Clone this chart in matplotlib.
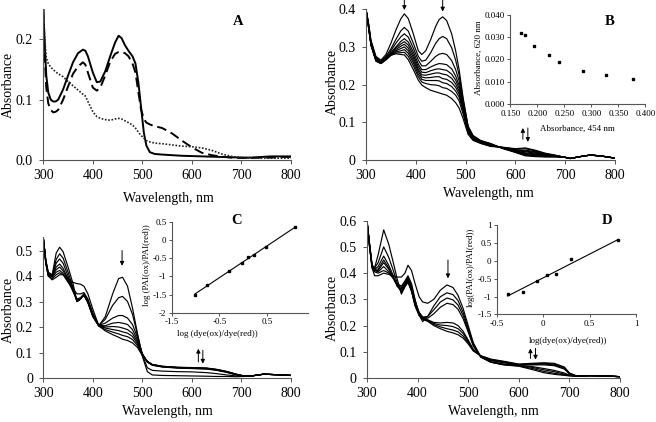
import numpy as np
import matplotlib
matplotlib.use('Agg')
import matplotlib.pyplot as plt
from matplotlib.ticker import FuncFormatter

plt.rcParams['font.family'] = ['Liberation Serif', 'DejaVu Serif']
plt.rcParams['axes.unicode_minus'] = False

# ---------------- data ----------------
wavelength_ticks = [300, 400, 500, 600, 700, 800]

# Panel A
wl_A = [300, 303, 306, 310, 315, 320, 325, 330, 340, 350, 360, 370, 380, 385, 390, 400, 408, 415,
        425, 435, 445, 452, 458, 465, 472, 480, 486, 492, 497, 503, 508, 515, 525, 540, 560, 580,
        600, 620, 640, 660, 680, 700, 720, 740, 760, 780, 800]
abs_A_solid = [0.25, 0.19, 0.14, 0.112, 0.10, 0.097, 0.097, 0.10, 0.117, 0.14, 0.162, 0.177, 0.183,
               0.181, 0.172, 0.145, 0.129, 0.13, 0.147, 0.172, 0.195, 0.206, 0.202, 0.19, 0.181,
               0.172, 0.16, 0.128, 0.09, 0.045, 0.024, 0.013, 0.01, 0.009, 0.008, 0.007, 0.0065,
               0.006, 0.0055, 0.005, 0.0045, 0.004, 0.004, 0.005, 0.006, 0.006, 0.006]
abs_A_dashed = [0.25, 0.17, 0.12, 0.094, 0.083, 0.079, 0.08, 0.083, 0.10, 0.122, 0.143, 0.155, 0.162,
                0.158, 0.145, 0.12, 0.115, 0.12, 0.14, 0.163, 0.176, 0.179, 0.179, 0.177, 0.172,
                0.16, 0.145, 0.112, 0.085, 0.068, 0.062, 0.059, 0.056, 0.053, 0.044, 0.032, 0.021,
                0.012, 0.008, 0.0055, 0.004, 0.0035, 0.0035, 0.004, 0.004, 0.005, 0.005]
abs_A_dotted = [0.25, 0.20, 0.17, 0.16, 0.154, 0.15, 0.146, 0.143, 0.138, 0.13, 0.123, 0.116, 0.109,
                0.106, 0.097, 0.08, 0.072, 0.069, 0.067, 0.066, 0.068, 0.069, 0.068, 0.065, 0.062,
                0.058, 0.053, 0.046, 0.041, 0.036, 0.032, 0.03, 0.028, 0.027, 0.025, 0.023, 0.022,
                0.02, 0.016, 0.01, 0.006, 0.004, 0.003, 0.003, 0.003, 0.003, 0.003]

# Panel B (rows: wavelength, columns: successive spectra)
wl_B = [300, 305, 310, 320, 330, 340, 350, 360, 370, 377, 385, 395, 405, 412, 420, 430, 440, 447,
        454, 462, 472, 480, 487, 495, 505, 515, 530, 550, 575, 600, 620, 640, 660, 680, 700, 710,
        730, 750, 770, 800]
abs_B = [
    [0.400, 0.400, 0.400, 0.400, 0.400, 0.400, 0.400, 0.400, 0.400, 0.400],
    [0.365, 0.362, 0.360, 0.358, 0.357, 0.356, 0.355, 0.354, 0.353, 0.352],
    [0.318, 0.315, 0.312, 0.310, 0.309, 0.308, 0.307, 0.306, 0.305, 0.304],
    [0.275, 0.272, 0.270, 0.268, 0.267, 0.266, 0.265, 0.264, 0.263, 0.262],
    [0.265, 0.262, 0.260, 0.259, 0.258, 0.258, 0.257, 0.257, 0.256, 0.256],
    [0.280, 0.275, 0.272, 0.270, 0.269, 0.268, 0.267, 0.267, 0.266, 0.266],
    [0.310, 0.295, 0.290, 0.285, 0.283, 0.281, 0.280, 0.279, 0.278, 0.278],
    [0.345, 0.320, 0.310, 0.300, 0.297, 0.293, 0.290, 0.287, 0.284, 0.282],
    [0.375, 0.343, 0.327, 0.315, 0.308, 0.302, 0.296, 0.290, 0.285, 0.280],
    [0.388, 0.352, 0.335, 0.322, 0.314, 0.307, 0.300, 0.293, 0.286, 0.279],
    [0.375, 0.342, 0.326, 0.313, 0.305, 0.297, 0.290, 0.283, 0.275, 0.266],
    [0.335, 0.310, 0.297, 0.287, 0.279, 0.272, 0.265, 0.258, 0.250, 0.240],
    [0.290, 0.275, 0.265, 0.255, 0.248, 0.241, 0.235, 0.228, 0.221, 0.212],
    [0.280, 0.262, 0.250, 0.240, 0.233, 0.226, 0.220, 0.214, 0.207, 0.199],
    [0.290, 0.265, 0.250, 0.240, 0.232, 0.225, 0.218, 0.211, 0.203, 0.192],
    [0.320, 0.285, 0.262, 0.247, 0.237, 0.228, 0.219, 0.211, 0.200, 0.185],
    [0.355, 0.310, 0.275, 0.253, 0.241, 0.231, 0.221, 0.211, 0.199, 0.181],
    [0.373, 0.322, 0.281, 0.256, 0.242, 0.231, 0.221, 0.210, 0.197, 0.178],
    [0.380, 0.328, 0.283, 0.255, 0.240, 0.228, 0.216, 0.205, 0.192, 0.175],
    [0.370, 0.322, 0.280, 0.253, 0.238, 0.226, 0.214, 0.203, 0.190, 0.172],
    [0.335, 0.298, 0.264, 0.242, 0.228, 0.217, 0.206, 0.195, 0.182, 0.163],
    [0.290, 0.265, 0.240, 0.223, 0.212, 0.202, 0.193, 0.183, 0.172, 0.152],
    [0.240, 0.225, 0.210, 0.198, 0.190, 0.182, 0.175, 0.167, 0.157, 0.138],
    [0.165, 0.160, 0.155, 0.150, 0.145, 0.140, 0.135, 0.130, 0.122, 0.110],
    [0.090, 0.088, 0.086, 0.084, 0.082, 0.080, 0.078, 0.076, 0.072, 0.068],
    [0.065, 0.064, 0.062, 0.060, 0.059, 0.058, 0.057, 0.056, 0.054, 0.052],
    [0.052, 0.051, 0.050, 0.049, 0.048, 0.048, 0.047, 0.046, 0.045, 0.044],
    [0.044, 0.043, 0.042, 0.041, 0.040, 0.040, 0.039, 0.038, 0.037, 0.036],
    [0.030, 0.031, 0.031, 0.032, 0.032, 0.032, 0.033, 0.033, 0.033, 0.034],
    [0.020, 0.021, 0.022, 0.023, 0.024, 0.025, 0.026, 0.027, 0.029, 0.030],
    [0.011, 0.013, 0.015, 0.017, 0.019, 0.022, 0.024, 0.026, 0.030, 0.032],
    [0.009, 0.011, 0.012, 0.014, 0.016, 0.018, 0.020, 0.022, 0.024, 0.026],
    [0.008, 0.009, 0.010, 0.011, 0.012, 0.013, 0.014, 0.015, 0.017, 0.018],
    [0.008, 0.009, 0.009, 0.010, 0.010, 0.011, 0.011, 0.012, 0.012, 0.013],
    [0.007, 0.007, 0.007, 0.007, 0.007, 0.007, 0.007, 0.007, 0.007, 0.007],
    [0.004, 0.004, 0.004, 0.004, 0.004, 0.004, 0.004, 0.004, 0.004, 0.004],
    [0.009, 0.009, 0.009, 0.009, 0.009, 0.009, 0.009, 0.009, 0.009, 0.009],
    [0.013, 0.013, 0.013, 0.013, 0.013, 0.013, 0.013, 0.013, 0.013, 0.013],
    [0.011, 0.011, 0.011, 0.011, 0.011, 0.011, 0.011, 0.011, 0.011, 0.011],
    [0.005, 0.005, 0.005, 0.005, 0.005, 0.005, 0.005, 0.005, 0.005, 0.005],
]
inset_B_abs454 = [0.170, 0.177, 0.194, 0.222, 0.240, 0.285, 0.327, 0.378]
inset_B_abs620 = [0.032, 0.031, 0.026, 0.022, 0.019, 0.015, 0.013, 0.011]

# Panel C
wl_C = [300, 305, 310, 318, 326, 333, 340, 350, 360, 368, 375, 382, 390, 400, 412, 425, 440, 452,
        460, 470, 480, 490, 500, 510, 520, 540, 570, 600, 630, 650, 670, 690, 705, 720, 745, 770, 800]
abs_C = [
    [0.550, 0.550, 0.550, 0.550, 0.550, 0.550, 0.550, 0.550],
    [0.450, 0.450, 0.455, 0.455, 0.460, 0.460, 0.460, 0.465],
    [0.400, 0.400, 0.405, 0.405, 0.410, 0.410, 0.410, 0.415],
    [0.385, 0.390, 0.395, 0.398, 0.400, 0.400, 0.402, 0.405],
    [0.395, 0.405, 0.415, 0.425, 0.435, 0.450, 0.465, 0.490],
    [0.405, 0.413, 0.422, 0.435, 0.447, 0.467, 0.487, 0.513],
    [0.405, 0.405, 0.410, 0.420, 0.430, 0.450, 0.470, 0.495],
    [0.390, 0.375, 0.380, 0.385, 0.390, 0.400, 0.415, 0.435],
    [0.375, 0.350, 0.340, 0.340, 0.345, 0.350, 0.355, 0.370],
    [0.370, 0.330, 0.310, 0.305, 0.300, 0.300, 0.300, 0.300],
    [0.368, 0.330, 0.315, 0.312, 0.310, 0.310, 0.310, 0.310],
    [0.360, 0.335, 0.330, 0.328, 0.327, 0.326, 0.325, 0.325],
    [0.330, 0.310, 0.305, 0.302, 0.300, 0.298, 0.296, 0.295],
    [0.270, 0.255, 0.250, 0.247, 0.245, 0.243, 0.242, 0.240],
    [0.205, 0.206, 0.207, 0.206, 0.205, 0.205, 0.204, 0.204],
    [0.240, 0.230, 0.215, 0.205, 0.200, 0.196, 0.190, 0.185],
    [0.330, 0.285, 0.235, 0.215, 0.202, 0.190, 0.180, 0.170],
    [0.390, 0.315, 0.245, 0.218, 0.200, 0.186, 0.173, 0.160],
    [0.395, 0.320, 0.245, 0.215, 0.196, 0.181, 0.167, 0.152],
    [0.360, 0.300, 0.235, 0.210, 0.190, 0.176, 0.162, 0.147],
    [0.275, 0.250, 0.210, 0.190, 0.175, 0.163, 0.151, 0.138],
    [0.175, 0.170, 0.160, 0.150, 0.142, 0.135, 0.128, 0.120],
    [0.085, 0.090, 0.095, 0.094, 0.093, 0.092, 0.090, 0.088],
    [0.025, 0.040, 0.062, 0.063, 0.064, 0.064, 0.065, 0.065],
    [0.012, 0.030, 0.050, 0.051, 0.052, 0.052, 0.053, 0.053],
    [0.010, 0.027, 0.043, 0.044, 0.045, 0.045, 0.046, 0.046],
    [0.009, 0.025, 0.039, 0.040, 0.041, 0.041, 0.042, 0.042],
    [0.008, 0.024, 0.037, 0.038, 0.039, 0.040, 0.040, 0.041],
    [0.007, 0.021, 0.035, 0.036, 0.037, 0.038, 0.038, 0.039],
    [0.006, 0.017, 0.030, 0.031, 0.032, 0.033, 0.033, 0.034],
    [0.006, 0.012, 0.022, 0.023, 0.024, 0.025, 0.025, 0.026],
    [0.005, 0.008, 0.012, 0.013, 0.013, 0.014, 0.014, 0.015],
    [0.006, 0.007, 0.008, 0.008, 0.008, 0.008, 0.008, 0.008],
    [0.008, 0.008, 0.008, 0.008, 0.008, 0.008, 0.008, 0.008],
    [0.015, 0.015, 0.015, 0.015, 0.015, 0.015, 0.015, 0.015],
    [0.013, 0.013, 0.013, 0.013, 0.013, 0.013, 0.013, 0.013],
    [0.010, 0.010, 0.010, 0.010, 0.010, 0.010, 0.010, 0.010],
]
inset_C_x = [-1.01, -0.76, -0.30, -0.03, 0.11, 0.24, 0.49, 1.10]
inset_C_y = [-1.50, -1.24, -0.86, -0.64, -0.48, -0.41, -0.20, 0.36]

# Panel D
wl_D = [300, 305, 310, 315, 322, 333, 343, 352, 360, 368, 375, 381, 388, 395, 403, 410, 420, 432,
        445, 458, 470, 480, 490, 500, 510, 525, 545, 570, 600, 625, 650, 670, 690, 700, 715, 740,
        770, 800]
abs_D = [
    [0.600, 0.600, 0.600, 0.600, 0.600, 0.600, 0.600, 0.600],
    [0.500, 0.500, 0.505, 0.505, 0.510, 0.510, 0.510, 0.515],
    [0.420, 0.420, 0.425, 0.425, 0.430, 0.430, 0.430, 0.430],
    [0.390, 0.405, 0.410, 0.410, 0.415, 0.415, 0.420, 0.420],
    [0.390, 0.400, 0.405, 0.410, 0.415, 0.425, 0.440, 0.470],
    [0.400, 0.410, 0.425, 0.440, 0.450, 0.465, 0.500, 0.565],
    [0.395, 0.400, 0.405, 0.415, 0.420, 0.430, 0.460, 0.510],
    [0.390, 0.380, 0.380, 0.380, 0.385, 0.390, 0.410, 0.440],
    [0.385, 0.360, 0.355, 0.350, 0.350, 0.350, 0.360, 0.375],
    [0.385, 0.350, 0.345, 0.340, 0.335, 0.330, 0.325, 0.320],
    [0.400, 0.370, 0.365, 0.360, 0.355, 0.352, 0.350, 0.348],
    [0.430, 0.390, 0.385, 0.380, 0.375, 0.370, 0.368, 0.365],
    [0.410, 0.360, 0.350, 0.345, 0.340, 0.335, 0.332, 0.330],
    [0.360, 0.300, 0.295, 0.290, 0.285, 0.280, 0.277, 0.275],
    [0.310, 0.240, 0.250, 0.250, 0.245, 0.242, 0.240, 0.238],
    [0.290, 0.215, 0.232, 0.232, 0.228, 0.226, 0.225, 0.224],
    [0.285, 0.235, 0.235, 0.228, 0.222, 0.220, 0.218, 0.216],
    [0.300, 0.275, 0.260, 0.245, 0.212, 0.208, 0.204, 0.200],
    [0.335, 0.310, 0.290, 0.270, 0.210, 0.202, 0.195, 0.188],
    [0.355, 0.325, 0.305, 0.285, 0.212, 0.200, 0.188, 0.178],
    [0.345, 0.318, 0.298, 0.280, 0.210, 0.196, 0.183, 0.172],
    [0.315, 0.295, 0.278, 0.262, 0.200, 0.188, 0.176, 0.165],
    [0.265, 0.250, 0.238, 0.226, 0.178, 0.170, 0.160, 0.152],
    [0.200, 0.190, 0.182, 0.175, 0.145, 0.140, 0.135, 0.130],
    [0.135, 0.130, 0.126, 0.122, 0.110, 0.108, 0.105, 0.103],
    [0.080, 0.080, 0.080, 0.080, 0.082, 0.083, 0.084, 0.085],
    [0.060, 0.060, 0.061, 0.062, 0.066, 0.068, 0.070, 0.072],
    [0.050, 0.051, 0.052, 0.053, 0.058, 0.060, 0.062, 0.064],
    [0.045, 0.046, 0.047, 0.048, 0.050, 0.051, 0.052, 0.053],
    [0.033, 0.037, 0.041, 0.044, 0.050, 0.052, 0.054, 0.056],
    [0.020, 0.025, 0.031, 0.036, 0.050, 0.053, 0.056, 0.058],
    [0.014, 0.018, 0.024, 0.029, 0.047, 0.050, 0.053, 0.056],
    [0.010, 0.012, 0.015, 0.019, 0.034, 0.037, 0.040, 0.042],
    [0.008, 0.009, 0.010, 0.011, 0.016, 0.017, 0.018, 0.019],
    [0.007, 0.007, 0.007, 0.007, 0.007, 0.007, 0.007, 0.007],
    [0.009, 0.009, 0.009, 0.009, 0.009, 0.009, 0.009, 0.009],
    [0.008, 0.008, 0.008, 0.008, 0.008, 0.008, 0.008, 0.008],
    [0.005, 0.005, 0.005, 0.005, 0.005, 0.005, 0.005, 0.005],
]
inset_D_x = [-0.385, -0.22, -0.065, 0.04, 0.14, 0.295, 0.81]
inset_D_y = [-0.92, -0.86, -0.57, -0.39, -0.37, 0.05, 0.58]

# ---------------- layout ----------------
W, H = 656, 422
fig = plt.figure(figsize=(W / 100, H / 100), dpi=100)
AX_C = '#555555'


def rect(x0, yb, x1, yt):
    return [x0 / W, 1 - yb / H, (x1 - x0) / W, (yb - yt) / H]


def ftext(x, y, s, **kw):
    kw.setdefault('ha', 'center')
    kw.setdefault('va', 'center')
    fig.text(x / W, 1 - y / H, s, **kw)


def style(ax, fs, tl=3.0, pad=3.0):
    for s in ['top', 'right']:
        ax.spines[s].set_visible(False)
    for s in ['left', 'bottom']:
        ax.spines[s].set_color(AX_C)
        ax.spines[s].set_linewidth(0.8)
    ax.tick_params(direction='out', length=tl, width=0.7, color=AX_C,
                   labelsize=fs, pad=pad, labelcolor='black')
    ax.patch.set_alpha(0)


def main_axes(r, ymax, yticks, fmt):
    ax = fig.add_axes(r)
    ax.set_xlim(300, 800)
    ax.set_ylim(0, ymax)
    ax.set_xticks(wavelength_ticks)
    ax.set_yticks(yticks)
    ax.yaxis.set_major_formatter(FuncFormatter(fmt))
    style(ax, 10, tl=3.0, pad=4.5)
    ax.tick_params(axis='x', pad=3.5)
    return ax


def arrow(ax, x, y0, y1):
    ax.annotate('', xy=(x, y1), xytext=(x, y0),
                arrowprops=dict(arrowstyle='-|>', lw=0.7, color='black',
                                mutation_scale=6, shrinkA=0, shrinkB=0),
                annotation_clip=False)


LW = 0.85
IFS = 6.5   # inset font size

# Panel A
axA = main_axes(rect(43.3, 160, 291, 9.2), 0.25, [0, 0.1, 0.2], lambda v, _: f'{v:.1f}')
axA.plot(wl_A, abs_A_solid, color='black', lw=1.4)
axA.plot(wl_A, abs_A_dashed, color='black', lw=1.4, dashes=(5, 2.5))
axA.plot(wl_A, abs_A_dotted, color='#222222', lw=1.2, dashes=(1, 1))
ftext(8, 85, 'Absorbance', rotation=90, fontsize=10)
ftext(168, 198, 'Wavelength, nm', fontsize=10)
ftext(238.5, 21.5, 'A', fontsize=10.5, fontweight='bold')

# Panel B
axB = main_axes(rect(366, 160, 615, 9.3), 0.4, [0, 0.1, 0.2, 0.3, 0.4], lambda v, _: f'{v:g}')
for spec in np.array(abs_B).T:
    axB.plot(wl_B, spec, color='black', lw=LW)
arrow(axB, 377, 0.426, 0.398)
arrow(axB, 454, 0.426, 0.394)
arrow(axB, 615, 0.055, 0.085)
arrow(axB, 625, 0.085, 0.048)
ftext(332, 82, 'Absorbance', rotation=90, fontsize=10)
ftext(488, 194, 'Wavelength, nm', fontsize=10)

axBi = fig.add_axes(rect(510.3, 104, 645.3, 14.7))
axBi.plot(inset_B_abs454, inset_B_abs620, 's', color='black', ms=1.8)
axBi.set_xlim(0.15, 0.40)
axBi.set_ylim(0, 0.04)
axBi.set_xticks([0.15, 0.20, 0.25, 0.30, 0.35, 0.40])
axBi.set_yticks([0, 0.01, 0.02, 0.03, 0.04])
axBi.xaxis.set_major_formatter(FuncFormatter(lambda v, _: f'{v:.3f}'))
axBi.yaxis.set_major_formatter(FuncFormatter(lambda v, _: f'{v:.3f}'))
style(axBi, IFS, tl=2.0, pad=2.0)
ftext(478.5, 58, 'Absorbance, 620 nm', rotation=90, fontsize=IFS)
ftext(577, 128.5, 'Absorbance, 454 nm', fontsize=IFS)
ftext(610, 21.5, 'B', fontsize=10.5, fontweight='bold')

# Panel C
axC = main_axes(rect(43.3, 378, 291, 237), 0.553, [0, 0.1, 0.2, 0.3, 0.4, 0.5], lambda v, _: f'{v:g}')
for spec in np.array(abs_C).T:
    axC.plot(wl_C, spec, color='black', lw=LW)
arrow(axC, 459, 0.50, 0.44)
arrow(axC, 613, 0.063, 0.115)
arrow(axC, 622, 0.109, 0.056)
ftext(8, 310, 'Absorbance', rotation=90, fontsize=10)
ftext(167, 412, 'Wavelength, nm', fontsize=10)

axCi = fig.add_axes(rect(172, 312.7, 308, 221.7))
cx = np.array(inset_C_x)
cy = np.array(inset_C_y)
kc = np.polyfit(cx, cy, 1)
axCi.plot([cx.min(), cx.max()], np.polyval(kc, [cx.min(), cx.max()]), color='black', lw=0.8)
axCi.plot(cx, cy, 's', color='black', ms=1.8)
axCi.set_xlim(-1.5, 1.37)
axCi.set_ylim(-2, 0.5)
axCi.set_xticks([-1.5, -0.5, 0.5])
axCi.set_yticks([-2, -1.5, -1, -0.5, 0, 0.5])
axCi.xaxis.set_major_formatter(FuncFormatter(lambda v, _: f'{v:g}'))
axCi.yaxis.set_major_formatter(FuncFormatter(lambda v, _: f'{v:g}'))
style(axCi, IFS, tl=2.0, pad=2.0)
ftext(147, 265, 'log (PAI(ox)/PAI(red))', rotation=90, fontsize=IFS)
ftext(217, 333.5, 'log (dye(ox)/dye(red))', fontsize=IFS)
ftext(237, 220, 'C', fontsize=10.5, fontweight='bold')

# Panel D
axD = main_axes(rect(367, 378, 620, 220.7), 0.6, [0, 0.1, 0.2, 0.3, 0.4, 0.5, 0.6], lambda v, _: f'{v:g}')
for spec in np.array(abs_D).T:
    axD.plot(wl_D, spec, color='black', lw=LW)
arrow(axD, 460, 0.45, 0.38)
arrow(axD, 623, 0.075, 0.113)
arrow(axD, 633, 0.113, 0.07)
ftext(332, 308, 'Absorbance', rotation=90, fontsize=10)
ftext(493, 412, 'Wavelength, nm', fontsize=10)

axDi = fig.add_axes(rect(497, 314.3, 636, 225.5))
dx = np.array(inset_D_x)
dy = np.array(inset_D_y)
kd = np.polyfit(dx, dy, 1)
axDi.plot([dx.min(), dx.max()], np.polyval(kd, [dx.min(), dx.max()]), color='black', lw=0.8)
axDi.plot(dx, dy, 's', color='black', ms=1.8)
axDi.set_xlim(-0.5, 1)
axDi.set_ylim(-1.5, 1)
axDi.set_xticks([-0.5, 0, 0.5, 1])
axDi.set_yticks([-1.5, -1, -0.5, 0, 0.5, 1])
axDi.xaxis.set_major_formatter(FuncFormatter(lambda v, _: f'{v:g}'))
axDi.yaxis.set_major_formatter(FuncFormatter(lambda v, _: f'{v:g}'))
style(axDi, IFS, tl=2.0, pad=2.0)
ftext(471, 267, 'log(PAI(ox)/PAI(red))', rotation=90, fontsize=IFS)
ftext(568, 341, 'log(dye(ox)/dye(red))', fontsize=IFS)
ftext(607, 220, 'D', fontsize=10.5, fontweight='bold')

fig.savefig('out.png', dpi=100)
